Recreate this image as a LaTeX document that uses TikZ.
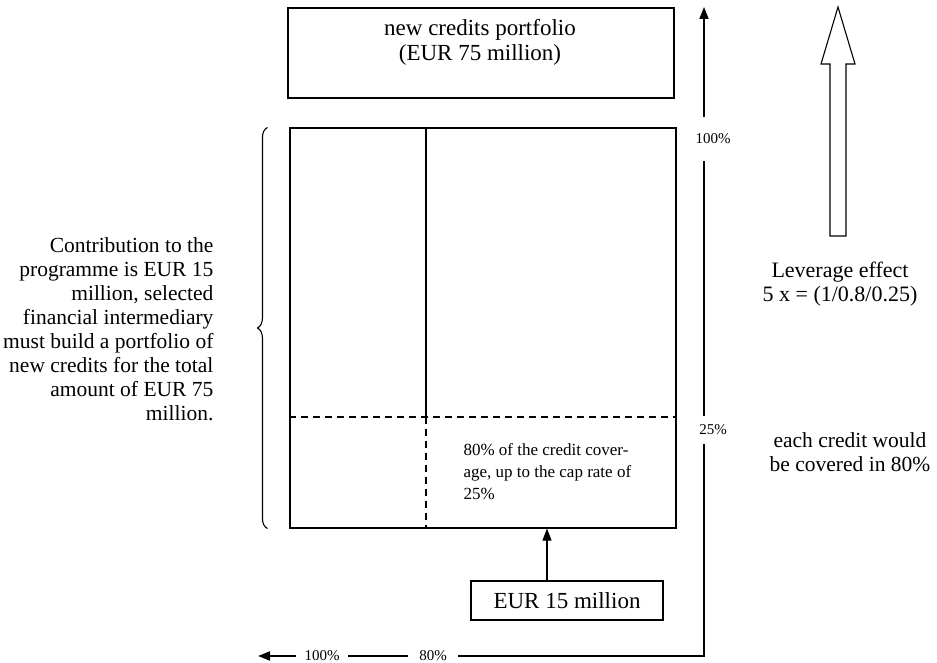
\documentclass[tikz,border=0pt]{standalone}
\usepackage{fontspec}
\setmainfont{Liberation Serif}
\usetikzlibrary{arrows.meta,decorations.pathreplacing}

\begin{document}
\begin{tikzpicture}[x=1pt,y=-1pt,line width=1.1pt,
  box/.style={draw,rectangle,inner sep=0pt},
  axis/.style={line width=1.8pt},
  tip/.style={-{Triangle[length=12pt,width=9pt]}},
  lbl/.style={font=\fontsize{15}{17}\selectfont,inner xsep=8pt},
  txt/.style={font=\fontsize{22}{24}\selectfont,align=center},
  small/.style={font=\fontsize{17}{22}\selectfont,align=left}]
  \useasboundingbox (0,0) rectangle (937,663);
  % portfolio box
  \node[box,minimum width=386,minimum height=90] (portfolio) at (481,53) {};
  \node[txt,font=\fontsize{23}{25}\selectfont] (ptext) at (480,42) {new credits portfolio\\(EUR 75 million)};
  % coverage grid
  \node[box,minimum width=386,minimum height=400] (grid) at (483,328) {};
  \coordinate (split) at (426,417);
  \draw (split |- grid.north) -- (split);
  \draw[dash pattern=on 7pt off 5pt] (split) -- (split |- grid.south);
  \draw[dash pattern=on 7pt off 5pt] (split -| grid.west) -- (split -| grid.east);
  \node[small,anchor=west] (cover) at (459.7,472) {80\% of the credit cover-\\age, up to the cap rate of\\25\%};
  % contribution
  \node[box,txt,font=\fontsize{23}{25}\selectfont,minimum width=192,minimum height=39] (eur) at (567,600.5) {EUR 15 million};
  \draw[tip] ([xshift=-20]eur.north) -- ([xshift=-20]eur.north |- grid.south);
  \draw[decorate,decoration={brace,amplitude=10pt}]
    ([xshift=-22]grid.south west) -- ([xshift=-22]grid.north west);
  \node[txt,font=\fontsize{21.5}{24}\selectfont,align=right,anchor=east] (contrib) at (217.3,329) {Contribution to the\\programme is EUR 15\\million, selected\\financial intermediary\\must build a portfolio of\\new credits for the total\\amount of EUR 75\\million.};
  % axes
  \coordinate (corner) at (704,656);
  \node[lbl,inner ysep=16pt] (v100) at (713,139) {100\%};
  \node[lbl,inner ysep=8pt] (v25) at (713,430) {25\%};
  \node[lbl,inner xsep=11pt] (h80) at (433,656) {80\%};
  \node[lbl] (h100) at (322,656) {100\%};
  \draw[axis] (h80.east) -- (corner) -- (corner |- v25.south);
  \draw[axis] (corner |- v25.north) -- (corner |- v100.south);
  \draw[axis,tip] (corner |- v100.north) -- (704,7);
  \draw[axis] (h80.west) -- (h100.east);
  \draw[axis,tip] (h100.west) -- (258,656);
  % leverage
  \draw (830,236) -- (830,64) -- (821,64) -- (838,7) -- (855,64) -- (846,64) -- (846,236) -- cycle;
  \node[txt] (lever) at (840,284) {Leverage effect\\5 x = (1/0.8/0.25)};
  \node[txt,font=\fontsize{21.5}{24}\selectfont] (each) at (850,452) {each credit would\\be covered in 80\%};
\end{tikzpicture}
\end{document}
